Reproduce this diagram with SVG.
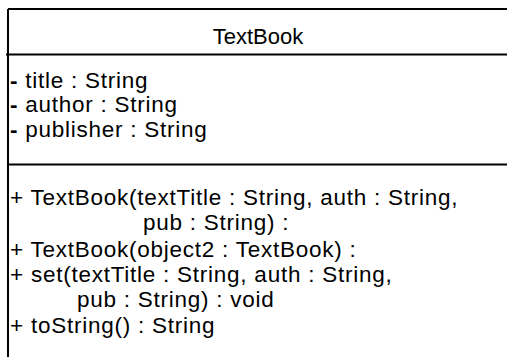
<svg xmlns="http://www.w3.org/2000/svg" width="507" height="357" viewBox="0 0 507 357">
<style>
.h{font-family:"Liberation Sans",Arial,sans-serif;font-size:22px;fill:#000}
.t{font-family:"Liberation Sans",Arial,sans-serif;font-size:22.5px;letter-spacing:0.75px;fill:#000}
.d{font-weight:bold}
.ln{stroke:#000;stroke-width:2;fill:none}
</style>
<rect width="507" height="357" fill="#fff"/>
<g id="TextBook">
<path class="ln" d="M8 9H510M8 9V360M6 54.5H510M8 164.5H510"/>
<text class="h" x="258" y="44" text-anchor="middle">TextBook</text>
<text class="t" x="10" y="88"><tspan class="d">-</tspan> title : String</text>
<text class="t" x="10" y="112"><tspan class="d">-</tspan> author : String</text>
<text class="t" x="10" y="137"><tspan class="d">-</tspan> publisher : String</text>
<text class="t" x="10" y="205">+ TextBook(textTitle : String, auth : String,</text>
<text class="t" x="143" y="230">pub : String) :</text>
<text class="t" x="10" y="257">+ TextBook(object2 : TextBook) :</text>
<text class="t" x="10" y="282">+ set(textTitle : String, auth : String,</text>
<text class="t" x="77" y="307">pub : String) : void</text>
<text class="t" x="10" y="333">+ toString() : String</text>
</g>
<g id="connectors"/>
</svg>
